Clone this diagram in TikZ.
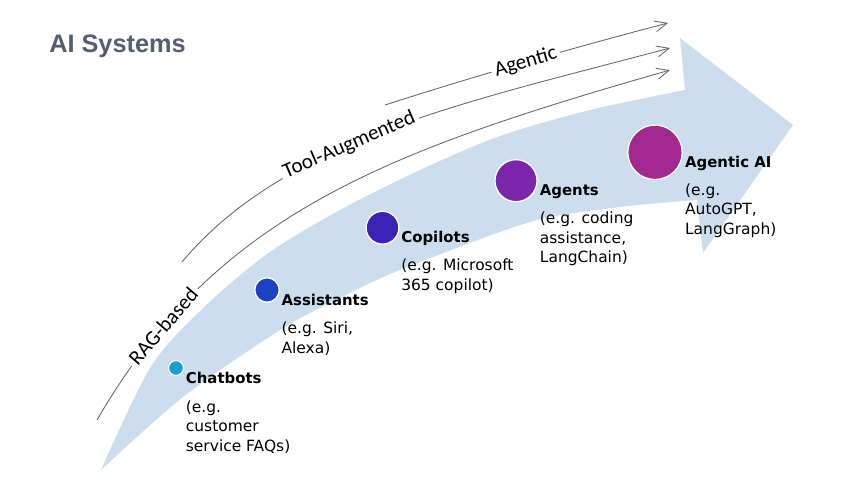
\documentclass[tikz,border=0pt]{standalone}
\usepackage{fontspec}
\setmainfont{DejaVu Sans}
\newfontfamily\arcfont{Carlito}
\newfontfamily\titlefont{Liberation Sans}
\usepackage{xcolor}
\usepackage{tikz}
\usetikzlibrary{arrows.meta,calc}

\definecolor{bandblue}{RGB}{204,222,238}
\definecolor{titlegray}{RGB}{84,94,113}
\definecolor{trendgray}{RGB}{100,100,100}
\definecolor{chatcol}{RGB}{22,160,214}
\definecolor{assistcol}{RGB}{26,64,196}
\definecolor{copilotcol}{RGB}{60,34,181}
\definecolor{agentcol}{RGB}{123,38,170}
\definecolor{agenticcol}{RGB}{161,41,143}

\tikzset{
  stagedot/.style={circle,draw=white,line width=0.9pt,inner sep=0pt},
  stagename/.style={font=\fontsize{10.6}{13}\selectfont\bfseries,inner sep=0pt,anchor=base west},
  stagenote/.style={font=\fontsize{11}{13.9}\selectfont,align=left,inner sep=0pt,anchor=base west},
  trend/.style={draw=trendgray,line width=0.6pt,-{Straight Barb[length=8.7pt,width=7.8pt]}},
  trendlabel/.style={font=\arcfont\fontsize{15}{18}\selectfont,sloped,fill=white,inner sep=2.5pt}
}

\begin{document}
\begin{tikzpicture}[x=0.025cm,y=-0.025cm]
    \useasboundingbox (0,0) rectangle (849,494);

    % Title
    \node[font=\titlefont\fontsize{18}{22}\selectfont\bfseries,text=titlegray,anchor=base west,inner sep=0pt] (title) at (49,52) {AI Systems};

    % Big curved arrow (background)
    \fill[bandblue] plot[smooth] coordinates {(101,470) (150,368) (200,311) (267,254) (340,210) (420,170) (500,136) (590,110) (685,90)}
        -- (680,38) -- (793,125) -- (703,253) -- (697,200)
        -- plot[smooth] coordinates {(697,200) (620,207) (530,222) (400,270) (340,298) (280,330) (183,397) (101,470)} -- cycle;

    % Trend arrows
    \coordinate (ragstart) at (97,420);
    \coordinate (ragend) at (670,70);
    \coordinate (toolstart) at (182,262);
    \coordinate (toolend) at (670,48);
    \coordinate (agenticstart) at (385,105);
    \coordinate (agenticend) at (668,23);
    \draw[trend] (ragstart) .. controls (217,212) and (391,150) .. (ragend)
        node[trendlabel,pos=0.17] (raglabel) {RAG-based};
    \draw[trend] (toolstart) .. controls (285,139) and (467,102) .. (toolend)
        node[trendlabel,pos=0.42] (toollabel) {Tool-Augmented};
    \draw[trend] (agenticstart) .. controls (475,76) and (576,47) .. (agenticend)
        node[trendlabel,pos=0.5] (agenticlabel) {Agentic};

    % Stages
    \node[stagedot,fill=chatcol,minimum size=0.375cm] (chatbots) at (176,368) {};
    \node[stagedot,fill=assistcol,minimum size=0.61cm] (assistants) at (267,290) {};
    \node[stagedot,fill=copilotcol,minimum size=0.82cm] (copilots) at (382.5,227.7) {};
    \node[stagedot,fill=agentcol,minimum size=1.05cm] (agents) at (516,180.7) {};
    \node[stagedot,fill=agenticcol,minimum size=1.36cm] (agenticai) at (655,152.3) {};

    % Stage labels (note anchored on its last line)
    \node[stagename] (chatbotsname) at ($(chatbots.east)+(1.5,15)$) {Chatbots};
    \node[stagenote] (chatbotsnote) at ($(chatbotsname.base west)+(0,68.5)$) {(e.g.\\customer\\service FAQs)};
    \node[stagename] (assistantsname) at ($(assistants.east)+(1.5,15)$) {Assistants};
    \node[stagenote] (assistantsnote) at ($(assistantsname.base west)+(0,48.5)$) {(e.g. Siri,\\Alexa)};
    \node[stagename] (copilotsname) at ($(copilots.east)+(1.5,15)$) {Copilots};
    \node[stagenote] (copilotsnote) at ($(copilotsname.base west)+(0,47.5)$) {(e.g. Microsoft\\365 copilot)};
    \node[stagename] (agentsname) at ($(agents.east)+(2,15)$) {Agents};
    \node[stagenote] (agentsnote) at ($(agentsname.base west)+(0,67)$) {(e.g. coding\\assistance,\\LangChain)};
    \node[stagename] (agenticainame) at ($(agenticai.east)+(2,15)$) {Agentic AI};
    \node[stagenote] (agenticainote) at ($(agenticainame.base west)+(0,67)$) {(e.g.\\AutoGPT,\\LangGraph)};
\end{tikzpicture}
\end{document}
